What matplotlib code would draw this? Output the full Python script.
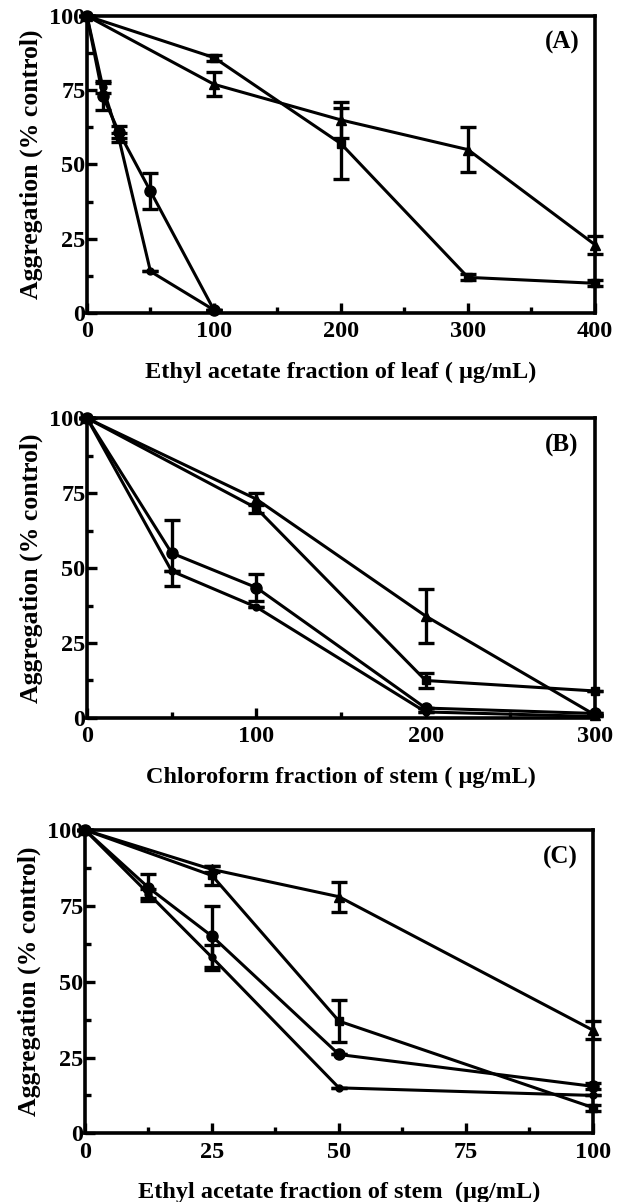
import numpy as np
import matplotlib
matplotlib.use("Agg")
import matplotlib.pyplot as plt
from matplotlib.ticker import MultipleLocator

plt.rcParams['font.family'] = ['Liberation Serif', 'DejaVu Serif']
plt.rcParams['font.weight'] = 'bold'

# Panel A - ethyl acetate fraction of leaf
a_x_sq = [0, 100, 200, 300, 400]
a_y_sq = [100, 86, 57, 12, 10]
a_e_sq = [0, 1, 12, 1, 1]
a_x_tri = [0, 100, 200, 300, 400]
a_y_tri = [100, 77, 65, 55, 23]
a_e_tri = [0, 4, 6, 7.5, 3]
a_x_circ = [0, 12.5, 25, 50, 100]
a_y_circ = [100, 73, 61, 41, 1]
a_e_circ = [0, 4.5, 2, 6, 0]
a_x_dot = [0, 12.5, 25, 50, 100]
a_y_dot = [100, 76, 59, 14, 1]
a_e_dot = [0, 2, 1.5, 0, 0]

# Panel B - chloroform fraction of stem
b_x = [0, 50, 100, 200, 300]
b_x2 = [0, 100, 200, 300]
b_y_sq = [100, 70, 12.5, 9]
b_e_sq = [0, 1.5, 2.5, 0]
b_y_tri = [100, 73, 34, 1]
b_e_tri = [0, 2, 9, 0]
b_y_circ = [100, 55, 43.5, 3.3, 1.5]
b_e_circ = [0, 11, 4.5, 0, 0]
b_y_dot = [100, 49, 37, 2, 0.5]
b_e_dot = [0, 0, 0, 0, 0]

# Panel C - ethyl acetate fraction of stem
c_x = [0, 12.5, 25, 50, 100]
c_x2 = [0, 25, 50, 100]
c_y_sq = [100, 85, 37, 8.5]
c_e_sq = [0, 3, 7, 1]
c_y_tri = [100, 87, 78, 34]
c_e_tri = [0, 1, 5, 3]
c_y_circ = [100, 81, 65, 26, 15.5]
c_e_circ = [0, 4.5, 10, 0, 1]
c_y_dot = [100, 79, 58, 15, 12.5]
c_e_dot = [0, 1.5, 4, 0, 0]

panels = [
    dict(label='(A)', xmax=400, major=100,
         xlabel='Ethyl acetate fraction of leaf ( \u03bcg/mL)',
         series=[(a_x_sq, a_y_sq, a_e_sq, 's', 6),
                 (a_x_tri, a_y_tri, a_e_tri, '^', 7),
                 (a_x_circ, a_y_circ, a_e_circ, 'o', 8),
                 (a_x_dot, a_y_dot, a_e_dot, 'o', 5)],
         rect=[0.1396, 0.7396, 0.8154, 0.2471]),
    dict(label='(B)', xmax=300, major=100,
         xlabel='Chloroform fraction of stem ( \u03bcg/mL)',
         series=[(b_x2, b_y_sq, b_e_sq, 's', 6),
                 (b_x2, b_y_tri, b_e_tri, '^', 7),
                 (b_x, b_y_circ, b_e_circ, 'o', 8),
                 (b_x, b_y_dot, b_e_dot, 'o', 5)],
         rect=[0.1396, 0.4027, 0.8154, 0.2494]),
    dict(label='(C)', xmax=100, major=25,
         xlabel='Ethyl acetate fraction of stem  (\u03bcg/mL)',
         series=[(c_x2, c_y_sq, c_e_sq, 's', 6),
                 (c_x2, c_y_tri, c_e_tri, '^', 7),
                 (c_x, c_y_circ, c_e_circ, 'o', 8),
                 (c_x, c_y_dot, c_e_dot, 'o', 5)],
         rect=[0.1364, 0.0571, 0.8154, 0.2524]),
]

fig = plt.figure(figsize=(6.23, 12.02), dpi=100)

for p in panels:
    ax = fig.add_axes(p['rect'])
    for x, y, e, m, ms in p['series']:
        ax.errorbar(x, y, yerr=e, color='black', marker=m, markersize=ms,
                    linewidth=2.2, elinewidth=2.4, capsize=6, capthick=2.4,
                    clip_on=False, zorder=3)
    ax.set_xlim(0, p['xmax'])
    ax.set_ylim(0, 100)
    ax.xaxis.set_major_locator(MultipleLocator(p['major']))
    ax.xaxis.set_minor_locator(MultipleLocator(p['major'] / 2))
    ax.yaxis.set_major_locator(MultipleLocator(25))
    ax.yaxis.set_minor_locator(MultipleLocator(12.5))
    ax.tick_params(which='both', direction='in', width=2.4, top=False, right=False,
                   labelsize=17.5)
    ax.tick_params(axis='x', pad=6)
    ax.tick_params(axis='y', pad=1)
    ax.tick_params(which='major', length=7)
    ax.tick_params(which='minor', length=4)
    for s in ax.spines.values():
        s.set_linewidth(2.6)
    ax.set_xlabel(p['xlabel'], fontsize=17.5, fontweight='bold', labelpad=14)
    ax.set_ylabel('Aggregation (% control)', fontsize=18.5, fontweight='bold', labelpad=5)
    ax.text(0.935, 0.91, p['label'], transform=ax.transAxes, fontsize=18,
            fontweight='bold', ha='center', va='center')

fig.savefig('out.png', dpi=100)
